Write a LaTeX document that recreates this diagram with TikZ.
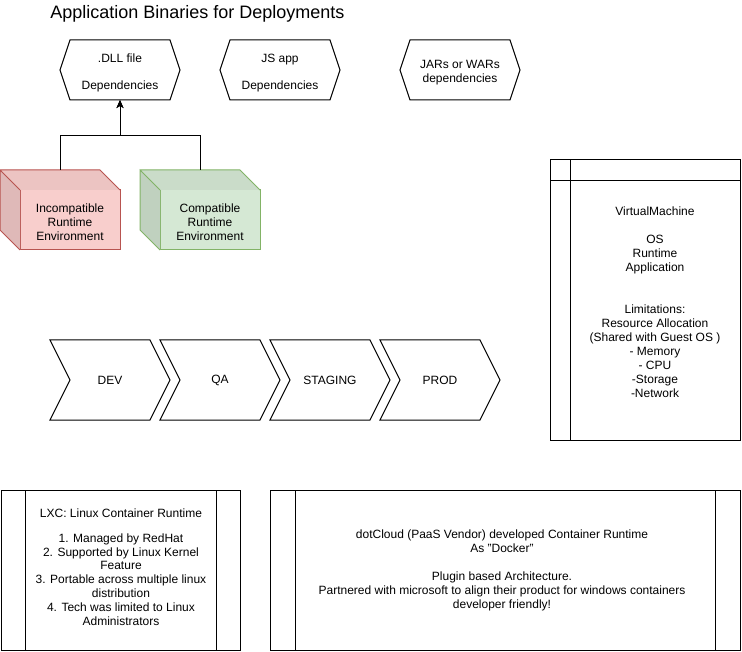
\documentclass[tikz,border=0pt]{standalone}
\usepackage{fontspec}
\setmainfont{Liberation Sans}
\usepackage{tikz}
\usetikzlibrary{arrows.meta,positioning}

\definecolor{badfill}{HTML}{F8CECC}
\definecolor{badline}{HTML}{B85450}
\definecolor{goodfill}{HTML}{D5E8D4}
\definecolor{goodline}{HTML}{82B366}

% outlines drawn round plain rectangle nodes
\newcommand{\hexframe}[1]{%
  \draw ([xshift=10pt]#1.north west) -- ([xshift=-10pt]#1.north east) -- (#1.east)
    -- ([xshift=-10pt]#1.south east) -- ([xshift=10pt]#1.south west) -- (#1.west) -- cycle;}
\newcommand{\stepframe}[1]{%
  \draw (#1.north west) -- ([xshift=-20pt]#1.north east) -- (#1.east)
    -- ([xshift=-20pt]#1.south east) -- (#1.south west) -- ([xshift=20pt]#1.west) -- cycle;}
\newcommand{\cubeframe}[3]{%
  \fill[#2!95!black] ([shift={(-20pt,20pt)}]#1.north west) -- ([shift={(-20pt,20pt)}]#1.north east)
    -- (#1.north east) -- (#1.north west) -- cycle;
  \fill[#2!90!black] ([shift={(-20pt,20pt)}]#1.north west) -- (#1.north west)
    -- (#1.south west) -- ([shift={(-20pt,20pt)}]#1.south west) -- cycle;
  \draw[#3] ([shift={(-20pt,20pt)}]#1.north west) -- ([shift={(-20pt,20pt)}]#1.north east)
    -- (#1.north east) (#1.north west) -- ([shift={(-20pt,20pt)}]#1.north west)
    -- ([shift={(-20pt,20pt)}]#1.south west) -- (#1.south west);}
\newcommand{\sidebars}[2]{%
  \draw ([xshift=#2]#1.north west) -- ([xshift=#2]#1.south west);
  \draw ([xshift=-#2]#1.north east) -- ([xshift=-#2]#1.south east);}
% pushes the first text line of a box a little down
\newcommand{\topgap}[1]{\rule{0pt}{#1}}

\tikzset{
  every node/.style={font=\fontsize{12}{14}\selectfont, outer sep=0pt},
  hexbox/.style={minimum width=120pt, minimum height=60pt, inner sep=0pt, align=center},
  stepbox/.style={minimum width=120pt, minimum height=80pt, inner sep=0pt},
  cubebox/.style={draw, minimum width=100pt, minimum height=60pt, inner sep=0pt, align=center},
  lanebox/.style={draw, inner sep=0pt},
  note/.style={inner sep=0pt, align=center},
  link/.style={-{Stealth[length=8pt,width=7pt,inset=2pt]}},
}

\begin{document}
\begin{tikzpicture}[x=1pt,y=-1pt,line width=1pt]
		\useasboundingbox (0,0) rectangle (742,652);
%		\draw[help lines] (0,0) grid (742,652);
		\path (47,19) coordinate (title);
		\path (120,70) coordinate (dllc);
		\path (280,70) coordinate (jsc);
		\path (460,70) coordinate (jarc);
		\path (70,220) coordinate (incc);
		\path (210,220) coordinate (compc);
		\path (110,380) coordinate (devc);
		\path (220,380) coordinate (qac);
		\path (330,380) coordinate (stagec);
		\path (440,380) coordinate (prodc);
		\path (645,300) coordinate (vmc);
		\path (120.5,570) coordinate (lxcc);
		\path (505,570) coordinate (dockc);

		\node[anchor=base west, font=\fontsize{18}{22}\selectfont] (head) at (title) {Application Binaries for Deployments};

		% binaries
		\node[hexbox] (dll) at (dllc) {\topgap{14.5pt}.DLL file\\[13pt]Dependencies};
		\node[hexbox] (js) at (jsc) {\topgap{14.5pt}JS app\\[13pt]Dependencies};
		\node[hexbox] (jar) at (jarc) {\topgap{13pt}JARs or WARs\\dependencies};
		\hexframe{dll}
		\hexframe{js}
		\hexframe{jar}

		% runtimes
		\node[cubebox, fill=badfill, draw=badline] (inc) at (incc) {\topgap{13pt}Incompatible\\Runtime\\Environment};
		\node[cubebox, fill=goodfill, draw=goodline] (comp) at (compc) {\topgap{13pt}Compatible\\Runtime\\Environment};
		\cubeframe{inc}{badfill}{badline}
		\cubeframe{comp}{goodfill}{goodline}
		\path (dll.south) ++(0,36) coordinate (split);
		\draw[link] ([shift={(-10pt,20pt)}]inc.north) |- (split) -- (dll.south);
		\draw[link] ([shift={(-10pt,20pt)}]comp.north) |- (split) -- (dll.south);

		% stages
		\node[stepbox] (dev) at (devc) {DEV};
		\node[stepbox] (qa) at (qac) {QA};
		\node[stepbox] (staging) at (stagec) {STAGING};
		\node[stepbox] (prod) at (prodc) {PROD};
		\stepframe{dev}
		\stepframe{qa}
		\stepframe{staging}
		\stepframe{prod}

		% virtual machine
		\node[lanebox, minimum width=190pt, minimum height=280pt] (vm) at (vmc) {};
		\draw ([yshift=-21pt]vm.north west) -- ([yshift=-21pt]vm.north east);
		\draw ([xshift=20pt]vm.north west) -- ([xshift=20pt]vm.south west);
		\node[note] (vmtext) at (655,302) {VirtualMachine\\[14pt]OS\\Runtime\\Application\\[28pt]Limitations:\\Resource Allocation\\(Shared with Guest OS )\\- Memory\\- CPU\\-Storage\\-Network};

		% containers
		\node[lanebox, minimum width=239pt, minimum height=160pt] (lxc) at (lxcc) {};
		\sidebars{lxc}{24pt}
		\node[note, font=\fontsize{12}{13.8}\selectfont] (lxctext) at (121,567) {LXC: Linux Container Runtime\\[11pt]1. Managed by RedHat\\2. Supported by Linux Kernel\\Feature\\3. Portable across multiple linux\\distribution\\4. Tech was limited to Linux\\Administrators};
		\node[lanebox, minimum width=470pt, minimum height=160pt] (dock) at (dockc) {};
		\sidebars{dock}{25pt}
		\node[note] (docktext) at (502,570) {dotCloud (PaaS Vendor) developed Container Runtime\\As "Docker"\\[14pt]Plugin based Architecture.\\Partnered with microsoft to align their product for windows containers\\developer friendly!};
	\end{tikzpicture}
\end{document}
